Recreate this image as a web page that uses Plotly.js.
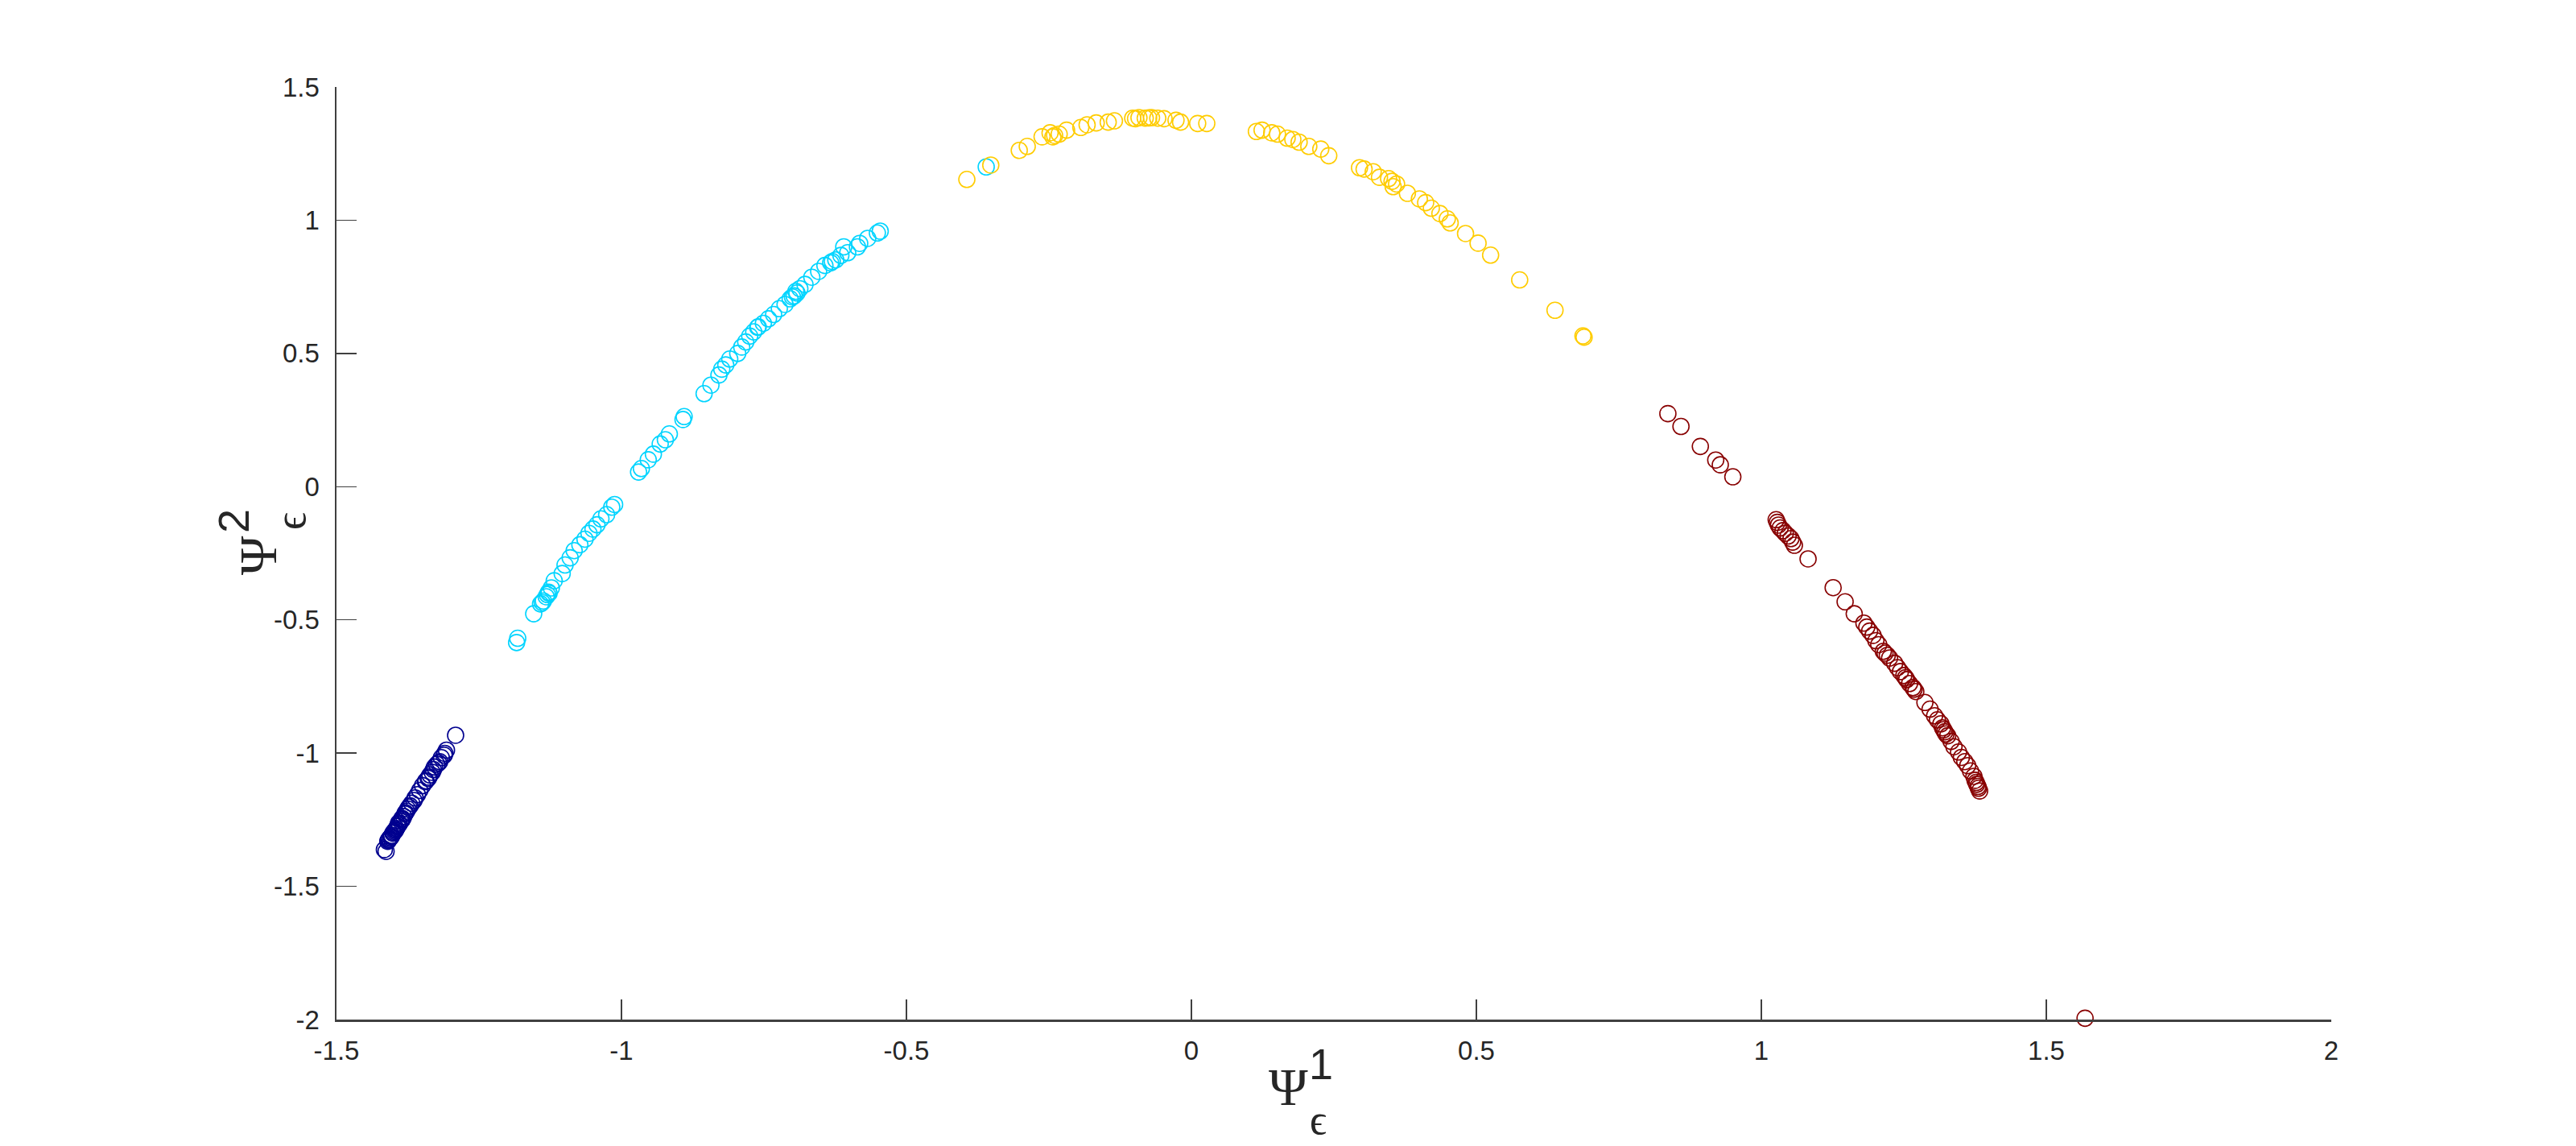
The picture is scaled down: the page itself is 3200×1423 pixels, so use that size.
<!DOCTYPE html>
<html>
<head>
<meta charset="utf-8">
<script src="https://cdn.plot.ly/plotly-3.0.1.min.js"></script>
<style>
  html, body { margin: 0; padding: 0; background: #fff; }
  #chart { width: 3200px; height: 1423px; }
</style>
</head>
<body>
<div id="chart"></div>
<script>
// --- data ---
const blueX = [-1.291, -1.307, -1.310, -1.316, -1.319, -1.324, -1.328, -1.330, -1.332, -1.336,
  -1.339, -1.344, -1.349, -1.354, -1.358, -1.362, -1.364, -1.368, -1.371, -1.375,
  -1.377, -1.380, -1.382, -1.384, -1.387, -1.390, -1.393, -1.395, -1.398, -1.401,
  -1.403, -1.405, -1.408, -1.410, -1.416, -1.413, -1.373, -1.379, -1.386, -1.392,
  -1.397, -1.400, -1.404, -1.407, -1.409, -1.385, -1.391, -1.396, -1.338, -1.343,
  -1.321, -1.311];
const blueY = [-0.933, -0.989, -1.001, -1.017, -1.032, -1.042, -1.052, -1.062, -1.072, -1.082,
  -1.095, -1.107, -1.122, -1.140, -1.156, -1.168, -1.178, -1.188, -1.198, -1.210,
  -1.218, -1.228, -1.238, -1.248, -1.256, -1.266, -1.275, -1.283, -1.294, -1.301,
  -1.309, -1.317, -1.324, -1.331, -1.362, -1.369, -1.203, -1.224, -1.250, -1.271,
  -1.290, -1.297, -1.313, -1.320, -1.327, -1.245, -1.262, -1.287, -1.090, -1.104,
  -1.037, -1.008];

const cyanX = [-0.546, -0.551, -0.568, -0.582, -0.586, -0.610, -0.603, -0.615, -0.624, -0.633,
  -0.643, -0.654, -0.666, -0.678, -0.687, -0.692, -0.697, -0.704, -0.713, -0.723,
  -0.733, -0.742, -0.751, -0.761, -0.768, -0.775, -0.782, -0.789, -0.796, -0.810,
  -0.817, -0.824, -0.829, -0.843, -0.855, -0.890, -0.892, -0.916, -0.923, -0.932,
  -0.944, -0.953, -0.965, -0.970, -1.012, -1.017, -1.026, -1.036, -1.043, -1.050,
  -1.057, -1.064, -1.073, -1.083, -1.090, -1.099, -1.104, -1.118, -1.123, -1.128,
  -1.132, -1.137, -1.142, -1.154, -1.182, -1.184, -0.694, -0.700, -0.760, -0.630,
  -1.127, -1.130, -1.139, -0.360];
const cyanY = [0.959, 0.952, 0.932, 0.913, 0.900, 0.900, 0.878, 0.868, 0.851, 0.840,
  0.830, 0.808, 0.786, 0.759, 0.743, 0.727, 0.716, 0.705, 0.684, 0.668,
  0.646, 0.630, 0.613, 0.598, 0.581, 0.565, 0.543, 0.524, 0.500, 0.479,
  0.457, 0.441, 0.419, 0.381, 0.349, 0.263, 0.252, 0.198, 0.176, 0.160,
  0.122, 0.101, 0.068, 0.055, -0.067, -0.077, -0.105, -0.121, -0.143, -0.159,
  -0.175, -0.197, -0.218, -0.240, -0.267, -0.294, -0.326, -0.353, -0.380, -0.396,
  -0.413, -0.429, -0.440, -0.477, -0.569, -0.585, 0.733, 0.712, 0.600, 0.845,
  -0.400, -0.405, -0.435, 1.200];

const yellowX = [-0.394, -0.352, -0.302, -0.288, -0.262, -0.248, -0.243, -0.232, -0.219, -0.194,
  -0.183, -0.167, -0.146, -0.135, -0.103, -0.092, -0.081, -0.070, -0.059, -0.048,
  -0.027, -0.019, 0.011, 0.027, 0.114, 0.124, 0.141, 0.151, 0.168, 0.178,
  0.189, 0.206, 0.227, 0.241, 0.295, 0.303, 0.319, 0.330, 0.346, 0.352,
  0.360, 0.354, 0.379, 0.400, 0.411, 0.421, 0.436, 0.449, 0.454, 0.481,
  0.503, 0.525, 0.576, 0.638, 0.689, 0.687, -0.098, -0.075, -0.240];
const yellowY = [1.153, 1.207, 1.262, 1.277, 1.313, 1.328, 1.313, 1.323, 1.338, 1.348,
  1.358, 1.365, 1.368, 1.373, 1.383, 1.385, 1.383, 1.385, 1.383, 1.381,
  1.375, 1.368, 1.363, 1.363, 1.333, 1.338, 1.328, 1.323, 1.308, 1.303,
  1.293, 1.277, 1.267, 1.242, 1.197, 1.192, 1.182, 1.161, 1.156, 1.146,
  1.136, 1.126, 1.101, 1.080, 1.066, 1.045, 1.025, 1.005, 0.990, 0.950,
  0.914, 0.869, 0.776, 0.662, 0.561, 0.566, 1.381, 1.384, 1.318];

const redX = [0.836, 0.859, 0.893, 0.920, 0.928, 0.950, 1.026, 1.028, 1.030, 1.033,
  1.038, 1.042, 1.047, 1.052, 1.055, 1.058, 1.082, 1.126, 1.147, 1.163,
  1.180, 1.185, 1.190, 1.196, 1.201, 1.206, 1.214, 1.221, 1.225, 1.234,
  1.239, 1.244, 1.250, 1.255, 1.260, 1.266, 1.271, 1.287, 1.296, 1.304,
  1.309, 1.315, 1.318, 1.322, 1.327, 1.333, 1.338, 1.346, 1.351, 1.357,
  1.362, 1.367, 1.373, 1.375, 1.378, 1.381, 1.383, 1.253, 1.217, 1.268,
  1.320, 1.324, 1.380, 1.377, 1.568];
const redY = [0.274, 0.226, 0.151, 0.100, 0.082, 0.037, -0.124, -0.134, -0.144, -0.155,
  -0.165, -0.175, -0.185, -0.195, -0.208, -0.220, -0.271, -0.379, -0.432, -0.477,
  -0.512, -0.527, -0.542, -0.558, -0.578, -0.593, -0.618, -0.633, -0.643, -0.663,
  -0.679, -0.694, -0.709, -0.724, -0.739, -0.754, -0.769, -0.810, -0.835, -0.860,
  -0.875, -0.890, -0.905, -0.920, -0.935, -0.956, -0.976, -0.996, -1.016, -1.032,
  -1.047, -1.067, -1.087, -1.102, -1.117, -1.132, -1.142, -0.717, -0.625, -0.760,
  -0.912, -0.928, -1.125, -1.110, -1.995];

const xTickVals = [-1.5, -1, -0.5, 0, 0.5, 1, 1.5, 2];
const xTickText = ['-1.5', '-1', '-0.5', '0', '0.5', '1', '1.5', '2'];
const yTickVals = [-2, -1.5, -1, -0.5, 0, 0.5, 1, 1.5];
const yTickText = ['-2', '-1.5', '-1', '-0.5', '0', '0.5', '1', '1.5'];

// --- chart ---
function ring(x, y, color) {
  return {
    x: x, y: y,
    type: 'scatter', mode: 'markers',
    cliponaxis: false,
    hoverinfo: 'x+y',
    marker: { symbol: 'circle-open', size: 20, color: color, line: { width: 1.6, color: color } }
  };
}

const traces = [
  ring(blueX, blueY, '#00008f'),
  ring(cyanX, cyanY, '#00d4ff'),
  ring(yellowX, yellowY, '#ffcc00'),
  ring(redX, redY, '#880000')
];

const axisBase = {
  showline: true, linecolor: '#404040', linewidth: 2.5,
  ticks: 'inside', ticklen: 25, tickwidth: 1.5, tickcolor: '#404040',
  showgrid: false, zeroline: false, mirror: false,
  tickfont: { family: 'Liberation Sans, Arial, sans-serif', size: 33, color: '#262626' },
  fixedrange: true
};

const serif = 'Liberation Serif, DejaVu Serif, serif';
const sans = 'Liberation Sans, Arial, sans-serif';
function label(text, x, y, font, size, angle, yanchor) {
  return {
    text: text, xref: 'paper', yref: 'paper', x: x, y: y,
    xanchor: 'center', yanchor: yanchor || 'middle', showarrow: false,
    textangle: angle || 0,
    font: { family: font, size: size, color: '#262626' }
  };
}

const layout = {
  width: 3200, height: 1423,
  margin: { l: 418, r: 304, t: 108, b: 157 },
  paper_bgcolor: '#ffffff', plot_bgcolor: '#ffffff',
  showlegend: false,
  xaxis: { ...axisBase, range: [-1.5, 2], tickvals: xTickVals, ticktext: xTickText, ticklabelstandoff: 8 },
  yaxis: { ...axisBase, range: [-2, 1.5], tickvals: yTickVals, ticktext: yTickText, ticklabelstandoff: 12 },
  annotations: [
    // x label: Psi^1_eps
    label('Ψ', 0.477, -0.0725, serif, 66),
    label('1', 0.4935, -0.0475, sans, 54),
    label('ϵ', 0.4923, -0.1335, serif, 52, 0, 'bottom'),
    // y label: Psi^2_eps (rotated)
    label('Ψ', -0.0395, 0.4974, serif, 66, -90),
    label('2', -0.0517, 0.5345, sans, 54, -90),
    label('ϵ', -0.0230, 0.5345, serif, 54, -90)
  ]
};

Plotly.newPlot('chart', traces, layout, { displayModeBar: false, staticPlot: true });
</script>
</body>
</html>
